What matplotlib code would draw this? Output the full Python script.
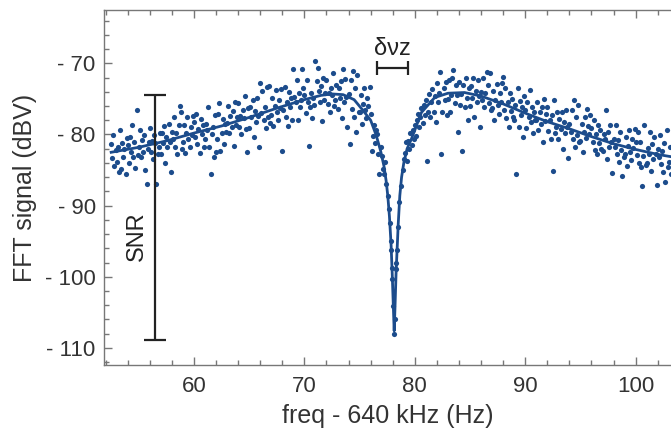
import matplotlib
matplotlib.use("Agg")
import matplotlib.pyplot as plt
from matplotlib.ticker import MultipleLocator, FuncFormatter

plt.rcParams['font.family'] = ['Liberation Sans', 'DejaVu Sans']

# ---- fitted curve ----
fit_x = [52.5, 55.0, 57.5, 60.0, 62.5, 65.0, 67.5, 70.0, 71.5, 72.5, 73.5, 74.5, 75.3, 76.0,
         76.5, 76.9, 77.2, 77.4, 77.55, 77.7, 77.85, 77.95, 78.05, 78.13, 78.2, 78.3, 78.4,
         78.5, 78.64, 78.8, 79.0, 79.3, 79.7, 80.6, 81.8, 83.0, 84.5, 86.0, 88.0, 90.0, 92.0,
         94.0, 96.0, 98.0, 100.0, 102.0, 103.5]
fit_y = [-82.5, -81.8, -80.9, -79.8, -78.8, -77.6, -76.3, -75.1, -74.5, -74.3, -74.4, -75.1, -76.6, -78.0,
         -80.1, -82.3, -84.4, -86.5, -88.6, -91.5, -95.5, -99.5, -104.0, -107.6, -104.5, -99.5, -96.0,
         -92.5, -88.6, -86.0, -84.0, -82.0, -80.6, -76.9, -74.8, -74.2, -74.1, -74.6, -75.7, -77.0, -78.2,
         -79.2, -80.3, -81.3, -82.1, -82.8, -83.2]

# ---- measured points, left wing ----
left_x = [52.5, 52.6, 52.7, 52.8, 52.9,
          53.0, 53.1, 53.2, 53.3, 53.4, 53.5, 53.6, 53.7, 53.8, 53.9,
          54.0, 54.1, 54.2, 54.3, 54.4, 54.5, 54.6, 54.7, 54.8, 54.9,
          55.0, 55.1, 55.2, 55.3, 55.4, 55.5, 55.6, 55.7, 55.8, 55.9,
          56.0, 56.1, 56.2, 56.3, 56.4, 56.5, 56.6, 56.7, 56.8, 56.9,
          57.0, 57.1, 57.2, 57.3, 57.4, 57.5, 57.6, 57.7, 57.8, 57.9,
          58.0, 58.1, 58.2, 58.3, 58.4, 58.5, 58.6, 58.7, 58.8, 58.9,
          59.0, 59.1, 59.2, 59.3, 59.4, 59.5, 59.6, 59.7, 59.8, 59.9,
          60.0, 60.1, 60.2, 60.3, 60.4, 60.5, 60.6, 60.7, 60.8, 60.9,
          61.0, 61.1, 61.2, 61.3, 61.4, 61.5, 61.6, 61.7, 61.8, 61.9,
          62.0, 62.1, 62.2, 62.3, 62.4, 62.5, 62.6, 62.7, 62.8, 62.9,
          63.0, 63.1, 63.2, 63.3, 63.4, 63.5, 63.6, 63.7, 63.8, 63.9,
          64.0, 64.1, 64.2, 64.3, 64.4, 64.5, 64.6, 64.7, 64.8, 64.9,
          65.0, 65.1, 65.2, 65.3, 65.4, 65.5, 65.6, 65.7, 65.8, 65.9,
          66.0, 66.1, 66.2, 66.3, 66.4, 66.5, 66.6, 66.7, 66.8, 66.9,
          67.0, 67.1, 67.2, 67.3, 67.4, 67.5, 67.6, 67.7, 67.8, 67.9,
          68.0, 68.1, 68.2, 68.3, 68.4, 68.5, 68.6, 68.7, 68.8, 68.9,
          69.0, 69.1, 69.2, 69.3, 69.4, 69.5, 69.6, 69.7, 69.8, 69.9,
          70.0, 70.1, 70.2, 70.3, 70.4, 70.5, 70.6, 70.7, 70.8, 70.9,
          71.0, 71.1, 71.2, 71.3, 71.4, 71.5, 71.6, 71.7, 71.8, 71.9,
          72.0, 72.1, 72.2, 72.3, 72.4, 72.5, 72.6, 72.7, 72.8, 72.9,
          73.0, 73.1, 73.2, 73.3, 73.4, 73.5, 73.6, 73.7, 73.8, 73.9,
          74.0, 74.1, 74.2, 74.3, 74.4, 74.5, 74.6, 74.7, 74.8, 74.9,
          75.0, 75.1, 75.2, 75.3, 75.4, 75.5, 75.6, 75.7, 75.8, 75.9,
          76.0, 76.1, 76.2, 76.3, 76.4, 76.5, 76.6, 76.7, 76.8, 76.9,
          77.0, 77.1, 77.2, 77.3]
left_y = [-81.3, -83.3, -80.1, -84.4, -82.2,
          -83.8, -81.7, -85.3, -79.4, -84.9, -81.2, -83.2, -82.1, -85.6, -80.5,
          -81.5, -84.0, -80.4, -82.5, -78.7, -83.1, -81.1, -84.7, -76.6, -82.9,
          -81.8, -79.4, -83.2, -80.8, -82.4, -80.1, -85.0, -86.9, -82.0, -81.0,
          -79.1, -82.4, -80.9, -83.5, -80.1, -81.2, -86.9, -82.7, -81.8, -79.8,
          -82.7, -79.8, -81.2, -78.8, -84.0, -80.3, -81.8, -78.5, -81.0, -85.3,
          -79.6, -80.7, -77.6, -81.7, -79.8, -82.8, -78.7, -76.0, -76.9, -82.1,
          -81.0, -78.6, -82.6, -79.8, -77.6, -80.6, -81.8, -78.9, -80.1, -77.4,
          -78.3, -80.3, -77.1, -81.4, -79.2, -82.6, -77.8, -79.9, -78.6, -81.8,
          -80.6, -78.5, -79.3, -76.2, -81.7, -85.6, -80.0, -78.9, -83.1, -77.3,
          -82.5, -80.7, -77.1, -75.6, -82.3, -79.8, -77.8, -81.4, -78.5, -79.6,
          -78.4, -76.0, -79.8, -77.4, -79.0, -76.7, -81.6, -75.5, -78.6, -77.6,
          -75.6, -78.9, -77.4, -80.0, -76.6, -77.7, -74.6, -79.2, -82.5, -76.3,
          -79.1, -76.2, -77.6, -75.2, -80.4, -76.7, -78.2, -74.9, -77.4, -81.7,
          -72.7, -77.0, -73.9, -78.0, -76.1, -79.1, -73.3, -77.5, -73.2, -78.4,
          -77.2, -74.8, -78.8, -76.0, -73.8, -76.8, -78.0, -75.1, -76.3, -73.6,
          -82.3, -76.5, -73.3, -77.6, -75.4, -78.8, -74.0, -76.1, -74.8, -78.0,
          -70.8, -74.7, -75.5, -72.4, -77.9, -74.2, -76.2, -75.1, -70.8, -73.5,
          -74.5, -77.0, -72.4, -75.5, -81.6, -76.1, -74.1, -77.7, -74.8, -75.9,
          -69.6, -72.5, -70.6, -73.9, -75.5, -73.2, -78.1, -72.0, -75.1, -74.1,
          -72.4, -75.7, -74.2, -76.8, -73.4, -74.5, -71.4, -76.0, -75.1, -73.1,
          -76.4, -73.5, -74.9, -72.5, -77.7, -70.8, -75.5, -72.2, -74.7, -79.0,
          -74.3, -81.3, -72.3, -76.4, -71.1, -77.5, -73.4, -79.7, -71.6, -76.8,
          -76.9, -74.5, -78.5, -75.7, -73.5, -76.5, -77.7, -74.8, -76.0, -73.3,
          -77.1, -82.3, -80.2, -78.6, -81.2, -79.4, -80.0, -82.8, -85.5, -81.7,
          -83.0, -84.8, -85.5, -83.9]

# ---- measured points, inside the dip ----
dip_x = [77.43, 77.55, 77.65, 77.74, 77.83, 77.87, 77.93, 77.97, 78.05, 78.13,
         78.18, 78.31, 78.33, 78.39, 78.48, 78.60, 78.72, 78.90, 79.05]
dip_y = [-86.9, -88.6, -90.5, -92.5, -94.9, -96.3, -98.7, -100.3, -104.1, -108.0,
         -106.0, -98.9, -98.0, -96.3, -93.0, -89.5, -87.2, -85.0, -83.5]

# ---- measured points, right wing ----
right_x = [79.1, 79.2, 79.3, 79.4, 79.5, 79.6, 79.7, 79.8, 79.9,
           80.0, 80.1, 80.2, 80.3, 80.4, 80.5, 80.6, 80.7, 80.8, 80.9,
           81.0, 81.1, 81.2, 81.3, 81.4, 81.5, 81.6, 81.7, 81.8, 81.9,
           82.0, 82.1, 82.2, 82.3, 82.4, 82.5, 82.6, 82.7, 82.8, 82.9,
           83.0, 83.1, 83.2, 83.3, 83.4, 83.5, 83.6, 83.7, 83.8, 83.9,
           84.0, 84.1, 84.2, 84.3, 84.4, 84.5, 84.6, 84.7, 84.8, 84.9,
           85.0, 85.1, 85.2, 85.3, 85.4, 85.5, 85.6, 85.7, 85.8, 85.9,
           86.0, 86.1, 86.2, 86.3, 86.4, 86.5, 86.6, 86.7, 86.8, 86.9,
           87.0, 87.1, 87.2, 87.3, 87.4, 87.5, 87.6, 87.7, 87.8, 87.9,
           88.0, 88.1, 88.2, 88.3, 88.4, 88.5, 88.6, 88.7, 88.8, 88.9,
           89.0, 89.1, 89.2, 89.3, 89.4, 89.5, 89.6, 89.7, 89.8, 89.9,
           90.0, 90.1, 90.2, 90.3, 90.4, 90.5, 90.6, 90.7, 90.8, 90.9,
           91.0, 91.1, 91.2, 91.3, 91.4, 91.5, 91.6, 91.7, 91.8, 91.9,
           92.0, 92.1, 92.2, 92.3, 92.4, 92.5, 92.6, 92.7, 92.8, 92.9,
           93.0, 93.1, 93.2, 93.3, 93.4, 93.5, 93.6, 93.7, 93.8, 93.9,
           94.0, 94.1, 94.2, 94.3, 94.4, 94.5, 94.6, 94.7, 94.8, 94.9,
           95.0, 95.1, 95.2, 95.3, 95.4, 95.5, 95.6, 95.7, 95.8, 95.9,
           96.0, 96.1, 96.2, 96.3, 96.4, 96.5, 96.6, 96.7, 96.8, 96.9,
           97.0, 97.1, 97.2, 97.3, 97.4, 97.5, 97.6, 97.7, 97.8, 97.9,
           98.0, 98.1, 98.2, 98.3, 98.4, 98.5, 98.6, 98.7, 98.8, 98.9,
           99.0, 99.1, 99.2, 99.3, 99.4, 99.5, 99.6, 99.7, 99.8, 99.9,
           100.0, 100.1, 100.2, 100.3, 100.4, 100.5, 100.6, 100.7, 100.8, 100.9,
           101.0, 101.1, 101.2, 101.3, 101.4, 101.5, 101.6, 101.7, 101.8, 101.9,
           102.0, 102.1, 102.2, 102.3, 102.4, 102.5, 102.6, 102.7, 102.8, 102.9,
           103.0, 103.1, 103.2]
right_y = [-82.6, -81.0, -83.7, -80.9, -82.0, -79.8, -81.5, -79.4, -80.6,
           -78.6, -80.2, -78.0, -77.1, -79.0, -77.6, -76.3, -78.4, -75.9, -77.3,
           -75.2, -83.7, -76.8, -74.3, -77.5, -75.4, -73.6, -76.9, -74.6, -78.2,
           -72.7, -75.5, -74.1, -71.2, -82.8, -76.9, -73.5, -75.1, -72.6, -77.3,
           -75.0, -72.3, -76.8, -74.5, -72.0, -71.0, -75.6, -73.1, -74.4, -79.7,
           -72.6, -75.8, -74.3, -82.3, -73.0, -76.2, -72.1, -74.9, -77.9, -73.4,
           -76.0, -73.2, -74.8, -72.1, -77.6, -73.9, -75.4, -72.4, -74.6, -78.9,
           -74.0, -75.1, -72.0, -76.1, -74.2, -71.2, -73.1, -75.6, -71.3, -76.5,
           -76.3, -73.9, -77.9, -75.1, -72.9, -75.9, -77.1, -74.2, -75.4, -72.7,
           -71.9, -76.6, -73.4, -77.7, -75.5, -78.9, -74.2, -76.7, -75.0, -77.6,
           -77.9, -75.8, -85.5, -73.5, -79.0, -75.3, -77.3, -76.2, -80.4, -74.6,
           -76.6, -79.1, -75.5, -77.6, -73.8, -78.2, -76.2, -79.8, -76.9, -78.0,
           -77.9, -75.5, -79.3, -76.9, -78.5, -76.2, -81.1, -75.0, -78.1, -77.1,
           -76.2, -79.5, -78.0, -80.6, -77.2, -85.1, -75.2, -79.8, -78.9, -76.9,
           -80.7, -77.8, -79.2, -76.8, -82.0, -78.3, -79.8, -76.5, -79.0, -83.3,
           -78.5, -79.6, -76.5, -80.6, -75.1, -81.7, -77.6, -80.1, -75.8, -81.0,
           -80.9, -78.5, -82.5, -79.7, -77.5, -80.5, -76.4, -78.8, -80.0, -77.3,
           -79.1, -81.1, -77.9, -82.2, -80.0, -82.8, -78.7, -81.2, -79.4, -82.1,
           -82.3, -79.9, -80.6, -76.6, -83.4, -79.7, -81.7, -78.6, -81.0, -85.4,
           -80.6, -81.7, -78.6, -82.7, -80.8, -83.8, -79.7, -82.2, -85.8, -83.1,
           -82.8, -80.4, -84.4, -81.6, -79.4, -82.4, -83.6, -80.7, -81.9, -79.2,
           -81.0, -82.9, -79.7, -84.0, -81.1, -84.6, -87.2, -83.0, -78.7, -84.3,
           -84.0, -81.9, -82.7, -79.6, -85.1, -81.4, -83.4, -80.3, -82.8, -87.1,
           -82.1, -83.2, -80.1, -84.2, -82.3, -85.3, -81.2, -86.7, -79.4, -84.6,
           -83.9, -81.8, -85.6]

# ---- annotation values ----
snr_x = 56.47
snr_top = -74.5
snr_bottom = -108.9
width_left = 76.6
width_right = 79.4
width_y = -70.7

BLUE = "#1c4c8c"

fig = plt.figure(figsize=(6.71, 4.33), dpi=100)
ax = fig.add_axes([104 / 671, 1 - 365 / 433, 1 - 104 / 671, (365 - 10) / 433])

ax.scatter(left_x, left_y, s=14, color=BLUE, linewidths=0, zorder=3)
ax.scatter(dip_x, dip_y, s=14, color=BLUE, linewidths=0, zorder=3)
ax.scatter(right_x, right_y, s=14, color=BLUE, linewidths=0, zorder=3)
ax.plot(fit_x, fit_y, color=BLUE, lw=2.0, zorder=4)

# SNR bar
ax.errorbar([snr_x], [(snr_top + snr_bottom) / 2], yerr=[[(snr_top - snr_bottom) / 2]],
            fmt='none', ecolor='#222222', elinewidth=1.6, capsize=8, capthick=1.6, zorder=5)
ax.text(snr_x - 1.6, -94.3, "SNR", rotation=90, ha='center', va='center',
        fontsize=17, color='#222222')

# linewidth bar
ax.errorbar([(width_left + width_right) / 2], [width_y], xerr=[[(width_right - width_left) / 2]],
            fmt='none', ecolor='#222222', elinewidth=1.6, capsize=5, capthick=1.6, zorder=5)
ax.text((width_left + width_right) / 2, width_y + 1.2, "δνz", ha='center', va='bottom',
        fontsize=17, color='#222222')

ax.set_xlim(51.85, 103.2)
ax.set_ylim(-112.4, -62.5)

ax.xaxis.set_major_locator(MultipleLocator(10))
ax.xaxis.set_minor_locator(MultipleLocator(2))
ax.yaxis.set_major_locator(MultipleLocator(10))
ax.yaxis.set_minor_locator(MultipleLocator(2))
ax.yaxis.set_major_formatter(FuncFormatter(lambda v, p: f"- {abs(v):.0f}" if v < 0 else f"{v:.0f}"))

for s in ['left', 'bottom', 'top']:
    ax.spines[s].set_color('#777777')
    ax.spines[s].set_linewidth(1.0)
ax.spines['right'].set_visible(False)

ax.tick_params(which='both', direction='in', top=True, bottom=True, left=True, right=False,
               color='#777777', labelsize=16, labelcolor='#333333')
ax.tick_params(which='major', length=6, width=1)
ax.tick_params(which='minor', length=3.5, width=1)
ax.tick_params(axis='y', pad=6)
ax.tick_params(axis='x', pad=8)

ax.set_xlabel("freq - 640 kHz (Hz)", fontsize=18, color='#333333', labelpad=5)
ax.set_ylabel("FFT signal (dBV)", fontsize=18, color='#333333', labelpad=6)

fig.savefig("out.png", dpi=100)
